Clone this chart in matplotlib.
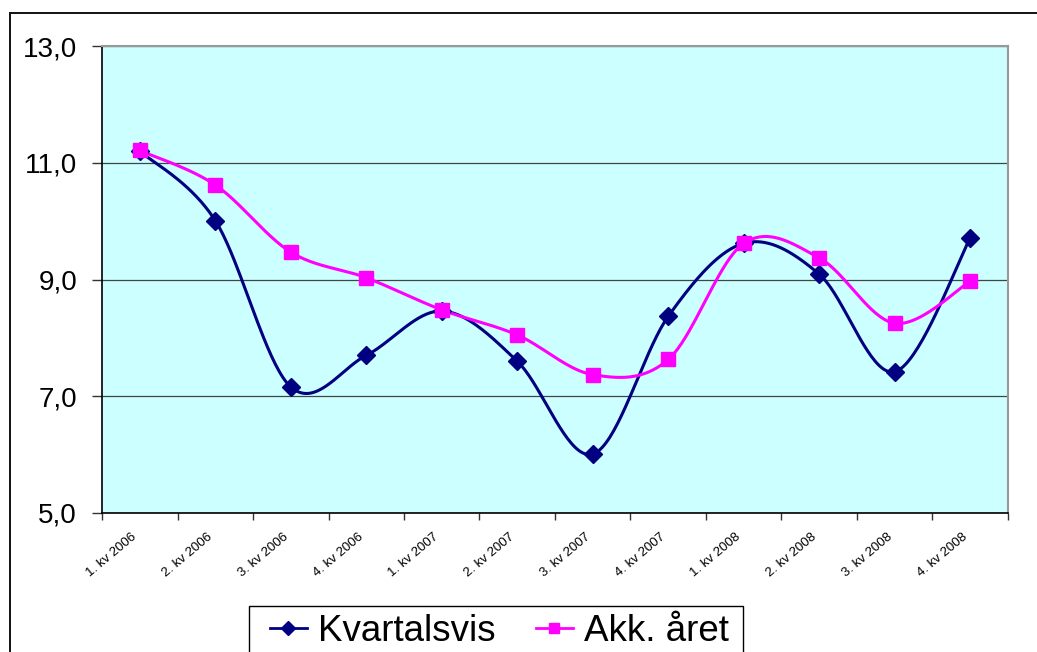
import numpy as np
import matplotlib
matplotlib.use("Agg")
import matplotlib.pyplot as plt
from matplotlib.patches import Rectangle
from matplotlib.lines import Line2D

plt.rcParams['font.family'] = ['Liberation Sans', 'DejaVu Sans']

# data
kvartaler = ['1. kv 2006', '2. kv 2006', '3. kv 2006', '4. kv 2006',
             '1. kv 2007', '2. kv 2007', '3. kv 2007', '4. kv 2007',
             '1. kv 2008', '2. kv 2008', '3. kv 2008', '4. kv 2008']
kvartalsvis = [11.20, 10.01, 7.16, 7.70, 8.46, 7.60, 6.01, 8.37, 9.62, 9.09, 7.42, 9.71]
akk_aret = [11.21, 10.62, 9.47, 9.03, 8.48, 8.05, 7.37, 7.63, 9.62, 9.37, 8.25, 8.97]


def smooth(xs, ys, n=40):
    # excel-style smoothed line (bezier through the points)
    p = np.column_stack([xs, ys]).astype(float)
    p = np.vstack([p[0], p, p[-1]])
    out = []
    for i in range(1, len(p) - 2):
        p0, p1, p2, p3 = p[i - 1], p[i], p[i + 1], p[i + 2]
        c1 = p1 + (p2 - p0) / 6.0
        c2 = p2 - (p3 - p1) / 6.0
        t = np.linspace(0, 1, n)[:, None]
        seg = ((1 - t) ** 3) * p1 + 3 * ((1 - t) ** 2) * t * c1 + 3 * (1 - t) * t ** 2 * c2 + t ** 3 * p2
        out.append(seg if i == 1 else seg[1:])
    out = np.vstack(out)
    return out[:, 0], out[:, 1]


W, H = 1037, 652
fig = plt.figure(figsize=(W / 100, H / 100), dpi=100)
ax = fig.add_axes([102 / W, 1 - 513 / H, 906 / W, 467 / H])
ax.set_facecolor('#CCFFFF')

x = np.arange(len(kvartaler))
navy = '#000080'
mag = '#FF00FF'

sx, sy = smooth(x, kvartalsvis)
ax.plot(sx, sy, color=navy, lw=2.2, zorder=3)
ax.plot(x, kvartalsvis, ls='none', marker='D', ms=9.5, color=navy, zorder=4)

sx, sy = smooth(x, akk_aret)
ax.plot(sx, sy, color=mag, lw=2.2, zorder=3)
ax.plot(x, akk_aret, ls='none', marker='s', ms=10.5, color=mag, zorder=5)

ax.set_ylim(5, 13)
ax.set_xlim(-0.5, len(kvartaler) - 0.5)
ax.set_yticks([5, 7, 9, 11, 13])
ax.set_yticklabels(['5,0', '7,0', '9,0', '11,0', '13,0'], fontsize=20)
ax.yaxis.grid(True, color='#444444', lw=0.9)
ax.set_axisbelow(True)

ax.set_xticks(np.arange(-0.5, len(kvartaler)), minor=False)
ax.set_xticklabels([])
ax.set_xticks(x - 0.11, minor=True)
ax.set_xticklabels(kvartaler, minor=True, fontsize=9.5, rotation=40,
                   ha='right', va='top', rotation_mode='anchor')
ax.tick_params(axis='x', which='major', direction='out', length=5, width=1, color='#333333')
ax.tick_params(axis='x', which='minor', length=0, pad=13)
ax.tick_params(axis='y', direction='out', length=7, width=1, color='#333333', pad=11)

ax.spines['left'].set_color('black')
ax.spines['bottom'].set_color('black')
ax.spines['left'].set_linewidth(1.2)
ax.spines['bottom'].set_linewidth(1.2)
ax.spines['top'].set_color('#999999')
ax.spines['right'].set_color('#999999')
ax.spines['top'].set_linewidth(1.5)
ax.spines['right'].set_linewidth(1.5)

# outer chart frame
fig.patches.append(Rectangle((10 / W, -0.2), 1.2, 1 - 13 / H + 0.2, transform=fig.transFigure,
                             fill=False, ec='#111111', lw=1.4))

# legend frame (runs off the bottom edge like in the original)
fig.patches.append(Rectangle((249 / W, -0.1), (743 - 249) / W, 1 - 606 / H + 0.1,
                             transform=fig.transFigure, fill=False, ec='black', lw=1.0))

handles = [Line2D([], [], color=navy, lw=2, marker='D', ms=7),
           Line2D([], [], color=mag, lw=2, marker='s', ms=7)]
leg = fig.legend(handles, ['Kvartalsvis', 'Akk. året'], loc='upper left',
                 bbox_to_anchor=(270 / W, 1 - 614 / H), ncol=2, fontsize=26.5,
                 frameon=False, handlelength=1.0, handletextpad=0.3,
                 columnspacing=1.1, borderpad=0, borderaxespad=0)

fig.savefig('out.png', dpi=100)
